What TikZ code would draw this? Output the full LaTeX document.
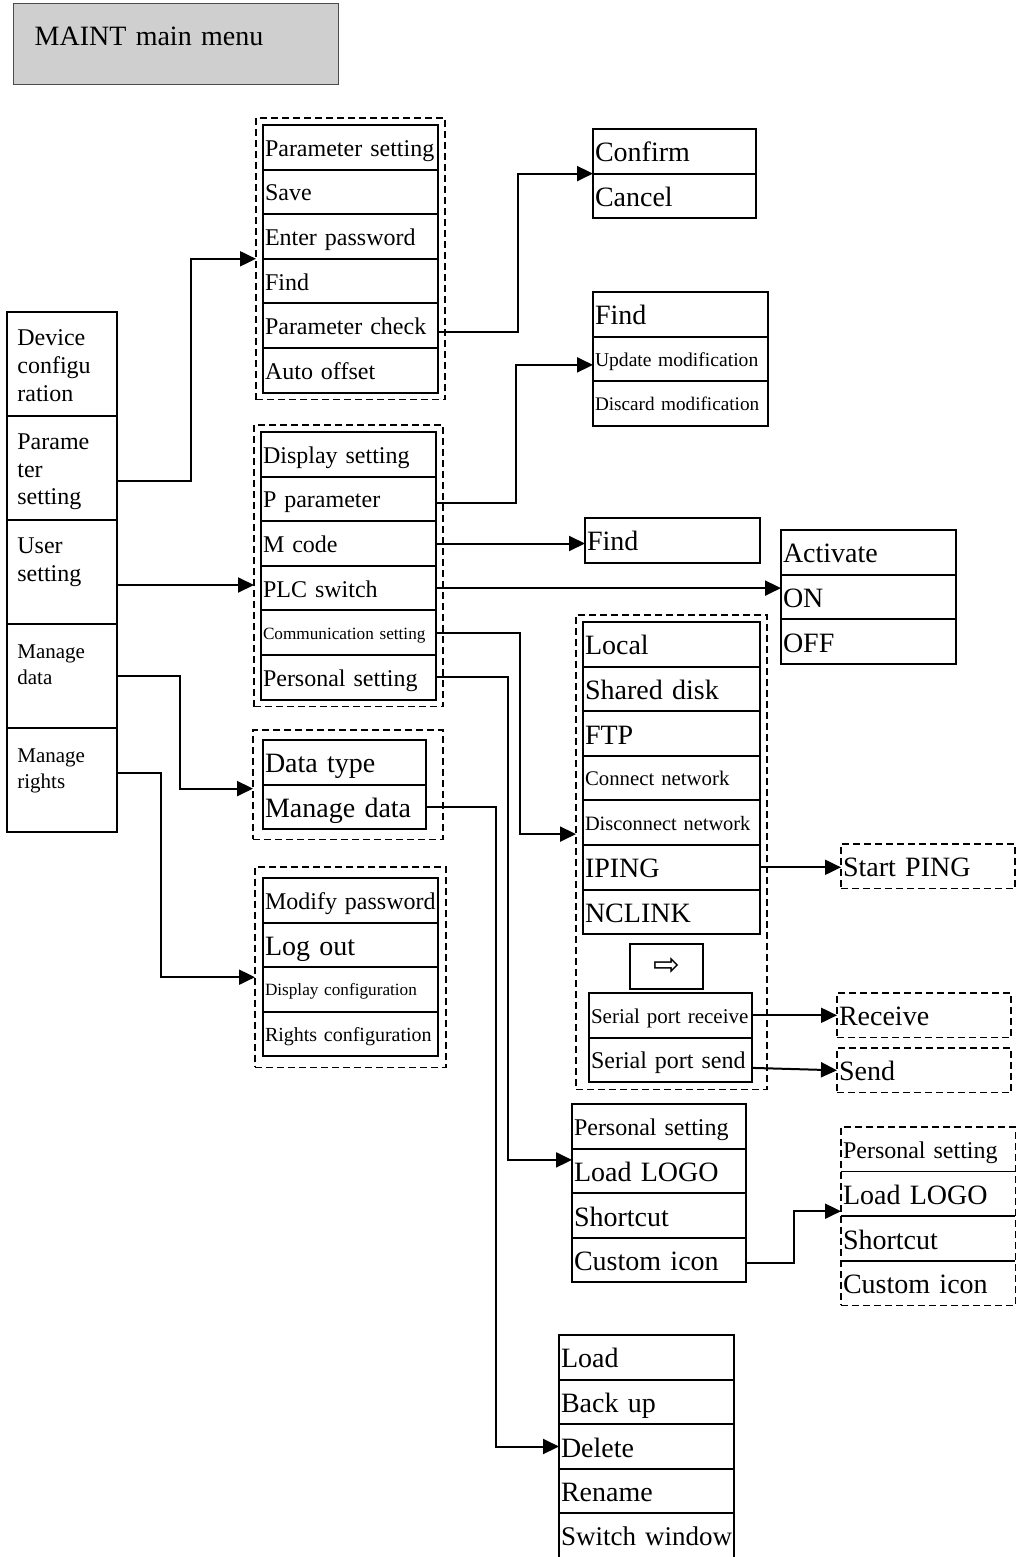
\documentclass[tikz,border=0pt]{standalone}
\usepackage{fontspec}
\setmainfont{Liberation Serif}
\newfontfamily\arrowfont{DejaVu Sans}
\usetikzlibrary{arrows.meta, positioning, fit}

\begin{document}
\begin{tikzpicture}[
x=0.5pt, y=-0.5pt,
node distance=0pt,
fs/.code={\pgfmathsetlengthmacro\rowh{0.75*#1pt}%
  \tikzset{font=\fontsize{#1pt}{#1pt}\selectfont, text height=\rowh}},
row/.style={draw,
  line width=1pt,
  outer sep=0pt,
  minimum height=22.3pt,
  inner xsep=1pt,
  inner ysep=0pt,
  text width=#1,
  align=left,
  text depth=0pt},
row/.default=85.5pt,
dashrow/.style={row=#1, dash pattern=on 3.5pt off 2pt, line width=0.7pt},
dashrow/.default=85pt,
menubox/.style={draw,
  line width=1pt,
  outer sep=0pt,
  minimum width=55pt,
  minimum height=52pt,
  inner sep=0pt},
menutext/.style={anchor=north west, align=left, inner xsep=5pt, inner ysep=8.8pt,
  font=\fontsize{12pt}{13.8pt}\selectfont},
smallmenu/.style={font=\fontsize{10.5pt}{13pt}\selectfont, inner ysep=10pt},
group/.style={draw, dash pattern=on 3.5pt off 2pt, line width=0.7pt,
  outer sep=0pt, inner sep=3.5pt},
divider/.style={line width=0.8pt},
arrow/.style={-{Triangle[length=8pt, width=7.5pt]}, line width=1pt}
]

\useasboundingbox (0,0) rectangle (1016,1557);

\node[draw=black!70, fill=black!19, line width=0.7pt, anchor=north west,
  minimum height=40.5pt, inner xsep=10.5pt, text width=141.5pt, align=left,
  fs=14, text depth=9pt] (maint) at (13,3) {MAINT main menu};

% main menu column
\node[menubox, anchor=north west] (dev) at (7,312) {};
\node[menubox, below=of dev] (par) {};
\node[menubox, below=of par] (usr) {};
\node[menubox, below=of usr] (dat) {};
\node[menubox, below=of dat] (rgt) {};
\node[menutext] (devtext) at (dev.north west) {Device\\configu\\ration};
\node[menutext] (partext) at (par.north west) {Parame\\ter\\setting};
\node[menutext] (usrtext) at (usr.north west) {User\\setting};
\node[menutext, smallmenu] (dattext) at (dat.north west) {Manage\\data};
\node[menutext, smallmenu] (rgttext) at (rgt.north west) {Manage\\rights};

% parameter setting
\node[row, fs=12, anchor=north west] (pa0) at (263,125) {Parameter setting};
\node[row, fs=12, below=of pa0] (pa1) {Save};
\node[row, fs=12, below=of pa1] (pa2) {Enter password};
\node[row, fs=12, below=of pa2] (pa3) {Find};
\node[row, fs=12, below=of pa3] (pa4) {Parameter check};
\node[row, fs=12, below=of pa4] (pa5) {Auto offset};
\node[group, fit=(pa0)(pa5)] (pagroup) {};

\node[row=79.5pt, fs=14, anchor=north west] (cf0) at (593,129) {Confirm};
\node[row=79.5pt, fs=14, below=of cf0] (cf1) {Cancel};

% user setting
\node[row, fs=12, anchor=north west] (ds0) at (261,432) {Display setting};
\node[row, fs=12, below=of ds0] (ds1) {P parameter};
\node[row, fs=12, below=of ds1] (ds2) {M code};
\node[row, fs=12, below=of ds2] (ds3) {PLC switch};
\node[row, fs=8.6, below=of ds3] (ds4) {Communication setting};
\node[row, fs=12, below=of ds4] (ds5) {Personal setting};
\node[group, fit=(ds0)(ds5)] (dsgroup) {};

\node[row, fs=14, anchor=north west] (fu0) at (593,292) {Find};
\node[row, fs=9.8, below=of fu0] (fu1) {Update modification};
\node[row, fs=9.6, below=of fu1] (fu2) {Discard modification};

\node[row, fs=14, anchor=north west] (mfind) at (585,518) {Find};

\node[row, fs=14, anchor=north west] (ac0) at (781,530) {Activate};
\node[row, fs=14, below=of ac0] (ac1) {ON};
\node[row, fs=14, below=of ac1] (ac2) {OFF};

% communication
\node[row=86.5pt, fs=14, anchor=north west] (nw0) at (583,622) {Local};
\node[row=86.5pt, fs=14, below=of nw0] (nw1) {Shared disk};
\node[row=86.5pt, fs=14, below=of nw1] (nw2) {FTP};
\node[row=86.5pt, fs=10.4, below=of nw2] (nw3) {Connect network};
\node[row=86.5pt, fs=10.2, below=of nw3] (nw4) {Disconnect network};
\node[row=86.5pt, fs=14, below=of nw4] (nw5) {IPING};
\node[row=86.5pt, fs=14, below=of nw5] (nw6) {NCLINK};
\node[draw, line width=1pt, anchor=north west, minimum width=36.7pt,
  minimum height=22.5pt, font=\arrowfont\fontsize{16pt}{16pt}\selectfont] (nwnext) at (629,943) {⇨};
\node[row=79.7pt, fs=10.5, anchor=north west] (sp0) at (589,993) {Serial port receive};
\node[row=79.7pt, fs=12, below=of sp0] (sp1) {Serial port send};
\node[group, fit=(nw0)(nw6)(sp1)] (nwgroup) {};

\node[dashrow, fs=14, anchor=north west] (ping) at (841,844) {Start PING};
\node[dashrow, fs=14, anchor=north west] (recv) at (837,993) {Receive};
\node[dashrow, fs=14, anchor=north west] (send) at (837,1048) {Send};

% personal setting
\node[row=85.2pt, fs=12, anchor=north west] (ps0) at (572,1104) {Personal setting};
\node[row=85.2pt, fs=14, below=of ps0] (ps1) {Load LOGO};
\node[row=85.2pt, fs=14, below=of ps1] (ps2) {Shortcut};
\node[row=85.2pt, fs=14, below=of ps2] (ps3) {Custom icon};

\node[row=85.2pt, fs=12, draw=none, anchor=north west] (pq0) at (841,1127) {Personal setting};
\node[row=85.2pt, fs=14, draw=none, below=of pq0] (pq1) {Load LOGO};
\node[row=85.2pt, fs=14, draw=none, below=of pq1] (pq2) {Shortcut};
\node[row=85.2pt, fs=14, draw=none, below=of pq2] (pq3) {Custom icon};
\node[group, inner sep=0pt, fit=(pq0)(pq3)] (pqgroup) {};
\draw[divider] (pq0.south west) -- (pq0.south east);
\draw[divider] (pq1.south west) -- (pq1.south east);
\draw[divider] (pq2.south west) -- (pq2.south east);

% manage data
\node[row=79.7pt, fs=14, anchor=north west] (dt0) at (263,740) {Data type};
\node[row=79.7pt, fs=14, below=of dt0] (dt1) {Manage data};
\node[group, inner sep=5pt, fit={(dt0) (dt1) ([xshift=3.3pt]dt1.east)}] (dtgroup) {};

\node[row, fs=14, anchor=north west] (ld0) at (559,1335) {Load};
\node[row, fs=14, below=of ld0] (ld1) {Back up};
\node[row, fs=14, below=of ld1] (ld2) {Delete};
\node[row, fs=14, below=of ld2] (ld3) {Rename};
\node[row, fs=13.5, below=of ld3] (ld4) {Switch window};

% manage rights
\node[row, fs=12, anchor=north west] (rg0) at (263,878) {Modify password};
\node[row, fs=14, below=of rg0] (rg1) {Log out};
\node[row, fs=8.6, below=of rg1] (rg2) {Display configuration};
\node[row, fs=10, below=of rg2] (rg3) {Rights configuration};
\node[group, inner xsep=4pt, inner ysep=5.5pt, fit=(rg0)(rg3)] (rggroup) {};

\draw[arrow] ([yshift=-6.5pt]par.east) -- ++(37pt,0) |- (pagroup.west);
\draw[arrow] ([yshift=-6.5pt]usr.east) -- ([yshift=-6.5pt]usr.east -| dsgroup.west);
\draw[arrow] (dat.east) -- ++(31.5pt,0) |- ([yshift=-2pt]dtgroup.west);
\draw[arrow] ([yshift=3.5pt]rgt.east) -- ++(22pt,0) |- ([yshift=-5pt]rggroup.west);

\draw[arrow] ([yshift=-3pt]pa4.east) -- ++(40pt,0) |- (cf0.south west);
\draw[arrow] ([yshift=-2pt]ds1.east) -- ++(40pt,0) |- ([yshift=-3pt]fu1.west);
\draw[arrow] (ds2.east) -- (ds2.east -| mfind.west);
\draw[arrow] (ds3.east) -- (ds3.east -| ac1.west);
\draw[arrow] (ds4.east) -- ++(42pt,0) |- ([yshift=9pt]nwgroup.west);
\draw[arrow] (ds5.east) -- ++(36pt,0) |- ([yshift=5.5pt]ps1.west);

\draw[arrow] (nw5.east) -- (nw5.east -| ping.west);
\draw[arrow] (sp0.east) -- (sp0.east -| recv.west);
\draw[arrow] ([yshift=-4pt]sp1.east) -- (send.west);
\draw[arrow] ([yshift=-1.25pt]ps3.east) -- ++(24pt,0) |- ([yshift=2.5pt]pq1.south west);
\draw[arrow] (dt1.east) -- ++(35pt,0) |- (ld2.west);

\end{tikzpicture}
\end{document}
